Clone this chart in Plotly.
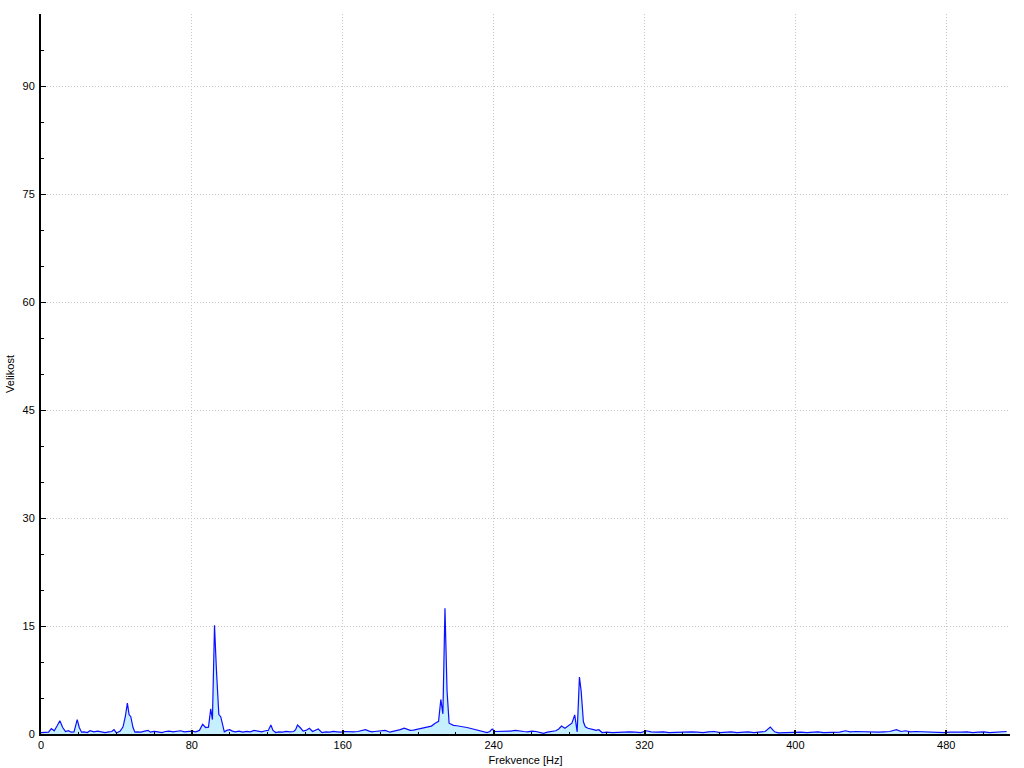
import plotly.graph_objects as go

freq_hz = [
    0, 2, 4, 5.5, 7, 8.5, 10, 11.5, 13, 14.5, 16, 17.5, 18.3, 19.2, 20.3, 21.5, 23, 24.5, 26, 28,
    30, 32, 34, 36, 37.5, 38.7, 40, 42, 43.5, 44.7, 45.8, 46.7, 47.6, 48.8, 49.8, 51, 53, 55, 56.8, 58,
    60, 62, 64, 66, 68, 70, 72, 74, 76, 78, 80, 82, 84, 85.7, 87.3, 88.8, 90, 90.9, 92, 93,
    94.3, 95.3, 96.2, 97.2, 98.5, 100, 101.5, 103, 105, 107, 109, 111, 113, 115, 117, 119, 120.5, 121.9, 123, 124.5,
    126, 128, 130, 132, 134, 135, 136, 137.4, 139, 140.5, 142.3, 144, 145.5, 147, 149, 151, 153, 155, 157, 159,
    161, 163, 165.5, 168, 170, 172, 174, 175.5, 177, 179, 181, 182.5, 185, 187, 188.7, 190.5, 192.6, 194, 195.8, 197.5,
    199.5, 201, 203, 205.5, 207, 209, 210.8, 212, 213.1, 214.2, 215.3, 216.4, 218.7, 220.5, 222, 224, 225.8, 227.5, 229.3, 231,
    233, 235, 236.5, 238, 239.2, 240.8, 243, 245, 247, 249, 251.5, 253.5, 256, 258, 260.3, 262.5, 264.5, 266.5, 268.5, 271,
    273, 274.5, 276, 277.8, 279.5, 281.5, 283, 284.3, 285.5, 286.4, 287.6, 288.6, 290, 291.5, 293, 294.3, 295.8, 297.5, 300, 303,
    306, 309, 312, 315, 318, 321, 323.5, 326.5, 330, 333, 336, 339, 342, 345, 348, 351, 354, 357, 360, 363,
    366, 369, 372, 375, 378, 381, 384, 386.7, 389, 391, 394, 397, 400, 403, 406, 409, 412, 415, 418, 421,
    423.5, 426.5, 429, 432, 435, 438, 441, 444, 447, 450, 453.6, 456, 458.4, 461, 464, 467, 470, 473, 476, 479,
    482, 485, 488, 491, 494, 497, 500, 503, 506, 509, 512,
]

magnitude = [
    0.2, 0.2, 0.25, 0.75, 0.45, 1.1, 1.85, 0.9, 0.35, 0.45, 0.25, 0.3, 1.0, 2.0, 0.9, 0.25, 0.3, 0.2, 0.45, 0.3,
    0.4, 0.25, 0.2, 0.3, 0.35, 0.6, 0.15, 0.4, 1.0, 2.4, 4.3, 2.7, 2.4, 0.9, 0.25, 0.3, 0.25, 0.4, 0.5, 0.25,
    0.35, 0.3, 0.2, 0.35, 0.4, 0.3, 0.35, 0.45, 0.3, 0.35, 0.4, 0.3, 0.5, 1.35, 0.9, 0.95, 3.5, 2.0, 15.1, 9.0,
    2.7, 2.4, 1.2, 0.3, 0.5, 0.6, 0.4, 0.3, 0.4, 0.25, 0.35, 0.3, 0.5, 0.35, 0.3, 0.45, 0.5, 1.25, 0.5, 0.2,
    0.3, 0.25, 0.35, 0.3, 0.35, 0.6, 1.25, 0.9, 0.4, 0.5, 0.8, 0.35, 0.5, 0.7, 0.2, 0.3, 0.25, 0.35, 0.3, 0.25,
    0.35, 0.3, 0.3, 0.35, 0.45, 0.6, 0.4, 0.3, 0.35, 0.4, 0.5, 0.5, 0.25, 0.35, 0.45, 0.6, 0.8, 0.65, 0.5, 0.55,
    0.65, 0.75, 0.8, 0.95, 1.1, 1.5, 1.75, 4.8, 2.8, 17.45, 6.0, 1.5, 1.2, 1.15, 1.1, 0.95, 0.9, 0.8, 0.7, 0.6,
    0.4, 0.3, 0.2, 0.35, 0.7, 0.35, 0.35, 0.35, 0.3, 0.4, 0.5, 0.4, 0.35, 0.3, 0.4, 0.35, 0.2, 0.1, 0.25, 0.4,
    0.45, 0.7, 1.1, 0.8, 1.1, 1.5, 2.65, 0.3, 7.9, 6.0, 1.7, 1.0, 0.8, 0.75, 0.6, 0.5, 0.6, 0.2, 0.25, 0.2,
    0.25, 0.2, 0.3, 0.25, 0.2, 0.45, 0.3, 0.25, 0.3, 0.2, 0.25, 0.2, 0.25, 0.3, 0.25, 0.2, 0.3, 0.35, 0.2, 0.25,
    0.3, 0.2, 0.25, 0.3, 0.2, 0.25, 0.35, 0.95, 0.3, 0.15, 0.2, 0.25, 0.2, 0.25, 0.2, 0.25, 0.3, 0.2, 0.25, 0.2,
    0.25, 0.45, 0.3, 0.35, 0.3, 0.25, 0.2, 0.25, 0.3, 0.35, 0.6, 0.35, 0.45, 0.3, 0.35, 0.3, 0.25, 0.3, 0.25, 0.2,
    0.25, 0.2, 0.25, 0.3, 0.2, 0.25, 0.3, 0.2, 0.25, 0.3, 0.35,
]

x_ticks = [0, 80, 160, 240, 320, 400, 480]
y_ticks = [0, 15, 30, 45, 60, 75, 90]

FONT = "Liberation Sans"
GRID = "#c8c8c8"

fig = go.Figure()
fig.add_trace(go.Scatter(
    x=freq_hz, y=magnitude, mode="lines",
    line=dict(color="rgb(15,15,255)", width=1.2),
    fill="tozeroy", fillcolor="rgb(198,240,255)",
    hoverinfo="x+y", showlegend=False,
))

fig.update_layout(
    width=1024, height=768,
    margin=dict(l=41, r=14, t=14, b=34, pad=0, autoexpand=False),
    paper_bgcolor="white", plot_bgcolor="white",
    font=dict(family=FONT, size=11, color="black"),
    xaxis=dict(
        range=[0, 513.8], tickvals=x_ticks, ticktext=[str(v) for v in x_ticks],
        ticks="inside", ticklen=4, tickwidth=2, tickcolor="black",
        showline=True, linecolor="black", linewidth=2,
        showgrid=True, gridcolor=GRID, griddash="1px,2px", gridwidth=1,
        zeroline=False, automargin=False,
        minor=dict(dtick=20, tick0=0, ticks="inside", ticklen=2, tickcolor="black", tickwidth=1, showgrid=False),
        title=dict(text="Frekvence [Hz]", font=dict(family=FONT, size=11, color="black"), standoff=6),
        tickfont=dict(family=FONT, size=11, color="black"),
    ),
    yaxis=dict(
        range=[0, 100], tickvals=y_ticks, ticktext=[str(v) for v in y_ticks],
        ticks="inside", ticklen=5, tickwidth=1, tickcolor="black",
        showline=True, linecolor="black", linewidth=2,
        showgrid=True, gridcolor=GRID, griddash="1px,2px", gridwidth=1,
        zeroline=False, automargin=False,
        minor=dict(dtick=5, tick0=0, ticks="inside", ticklen=3, tickcolor="black", tickwidth=1, showgrid=False),
        title=dict(text="Velikost", font=dict(family=FONT, size=11, color="black"), standoff=6),
        tickfont=dict(family=FONT, size=11, color="black"),
        ticklabelstandoff=2,
    ),
)

fig.write_html(
    "out.html",
    config={"displayModeBar": False},
    post_script="document.body.style.margin='0';document.body.style.overflow='hidden';",
)
